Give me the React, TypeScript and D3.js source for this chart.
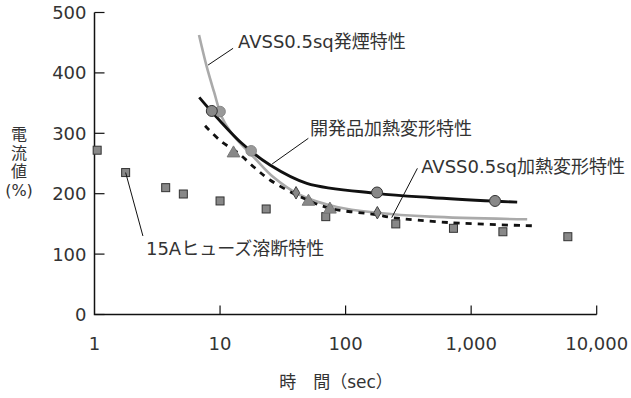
import React from 'react';
import * as d3 from 'd3';

// x: time (sec, log), y: current (%)
const xTicks = [1, 10, 100, 1000, 10000];
const yTicks = [0, 100, 200, 300, 400, 500];

const fuseSquares: [number, number][] = [
  [1.05, 272], [1.77, 235], [3.69, 210], [5.1, 199.5], [10, 188], [23.3, 174.7],
  [69.5, 162], [251, 150], [723, 142.7], [1790, 137], [5890, 128.8],
];
const smokeCurve: [number, number][] = [
  [6.8, 462.7], [7.83, 410.3], [8.96, 368.4], [10.3, 327.5], [12.0, 303.8], [14.4, 284],
  [19.0, 258.3], [26.4, 228.1], [43.4, 197.8], [85.1, 178], [177, 168.5], [471, 162], [2794, 157.6],
];
const devCurve: [number, number][] = [
  [6.83, 359.6], [8.58, 335.8], [14.9, 283.4], [25, 247.5], [49.1, 217.2],
  [177, 200.7], [471, 193.7], [1552, 187.6], [2326, 186],
];
const heatCurve: [number, number][] = [
  [7.6, 312.4], [10, 288.2], [14, 266.9], [19, 242.5], [25, 222.7], [43.4, 195.1],
  [75.2, 175.8], [177, 165.2], [233, 160.6], [680, 152.1], [3046, 146.9],
];
const devCircles: [number, number][] = [[8.6, 337], [178, 202], [1550, 188]];
const smokeCircles: [number, number][] = [[10, 336], [17.7, 271]];
const heatTriangles: [number, number][] = [[12.8, 267], [50.6, 187], [75, 174]];
const heatDiamonds: [number, number][] = [[40.3, 201.5], [179, 168.5]];

const labels = [
  { text: 'AVSS0.5sq発煙特性', at: [13.9, 451.7], from: [8.03, 413], to: [12.7, 440.7] },
  { text: '開発品加熱変形特性', at: [52.1, 308.3], from: [26.0, 249.2], to: [50.5, 291.7] },
  { text: 'AVSS0.5sq加熱変形特性', at: [400, 244.7], from: [233, 160.3], to: [373, 242] },
  { text: '15Aヒューズ溶断特性', at: [2.57, 110], from: [1.77, 235], to: [2.43, 130] },
];

const W = 631, H = 398;
const FONT = '"DejaVu Sans", "Noto Sans CJK JP", sans-serif';

export default function App() {
  const x = d3.scaleLog().domain([1, 10000]).range([94.5, 596.7]);
  const y = d3.scaleLinear().domain([0, 500]).range([314.5, 12.5]);
  const line = d3.line<[number, number]>().x(d => x(d[0])).y(d => y(d[1])).curve(d3.curveCatmullRom.alpha(0.5));
  const fmt = d3.format(',');
  const tri = d3.symbol().type(d3.symbolTriangle).size(70)();
  const dia = d3.symbol().type(d3.symbolDiamond).size(45)();

  return (
    <svg width={W} height={H} style={{ position: 'absolute', left: 0, top: 0, background: '#fff' }} fontFamily={FONT}>
      {/* axes */}
      <path d={`M${x(1)},${y(500)}V${y(0)}H${x(10000)}`} fill="none" stroke="#111" strokeWidth={1.5} />
      {yTicks.map(t => (
        <g key={t}>
          <line x1={x(1)} x2={x(1) + 10} y1={y(t)} y2={y(t)} stroke="#111" strokeWidth={1.2} />
          <text x={x(1) - 8} y={y(t) + 6.5} textAnchor="end" fontSize={18} fill="#333">{t}</text>
        </g>
      ))}
      {xTicks.map(t => (
        <g key={t}>
          {t > 1 && <line x1={x(t)} x2={x(t)} y1={y(0)} y2={y(0) - 9} stroke="#111" strokeWidth={1.2} />}
          <text x={x(t)} y={y(0) + 35.5} textAnchor="middle" fontSize={18} fill="#333">{fmt(t)}</text>
        </g>
      ))}
      <text x={336} y={388} textAnchor="middle" fontSize={17} fill="#333">時　間（sec）</text>
      {['電', '流', '値', '(%)'].map((s, i) => (
        <text key={s} x={19} y={140 + i * 18.5} textAnchor="middle" fontSize={16} fill="#333">{s}</text>
      ))}

      {/* curves */}
      <path d={line(smokeCurve) || ''} fill="none" stroke="#aaa" strokeWidth={2.6} />
      <path d={line(heatCurve) || ''} fill="none" stroke="#111" strokeWidth={2.8} strokeDasharray="6,6" />
      <path d={line(devCurve) || ''} fill="none" stroke="#111" strokeWidth={2.8} />

      {/* markers */}
      {fuseSquares.map((d, i) => (
        <rect key={i} x={x(d[0]) - 4} y={y(d[1]) - 4} width={8} height={8} fill="#888" stroke="#333" strokeWidth={1} />
      ))}
      {smokeCircles.map((d, i) => (
        <circle key={i} cx={x(d[0])} cy={y(d[1])} r={5.3} fill="#999" stroke="#888" strokeWidth={1} />
      ))}
      {devCircles.map((d, i) => (
        <circle key={i} cx={x(d[0])} cy={y(d[1])} r={5.5} fill="#888" stroke="#333" strokeWidth={1} />
      ))}
      {heatTriangles.map((d, i) => (
        <path key={i} d={tri || ''} transform={`translate(${x(d[0])},${y(d[1])})`} fill="#888" stroke="#777" strokeWidth={1} />
      ))}
      {heatDiamonds.map((d, i) => (
        <path key={i} d={dia || ''} transform={`translate(${x(d[0])},${y(d[1])})`} fill="#888" stroke="#444" strokeWidth={1} />
      ))}

      {/* annotations */}
      {labels.map(l => (
        <g key={l.text}>
          <line x1={x(l.from[0])} y1={y(l.from[1])} x2={x(l.to[0])} y2={y(l.to[1])} stroke="#111" strokeWidth={1} />
          <text x={x(l.at[0])} y={y(l.at[1]) + 6.5} fontSize={18} fill="#333">{l.text}</text>
        </g>
      ))}
    </svg>
  );
}
